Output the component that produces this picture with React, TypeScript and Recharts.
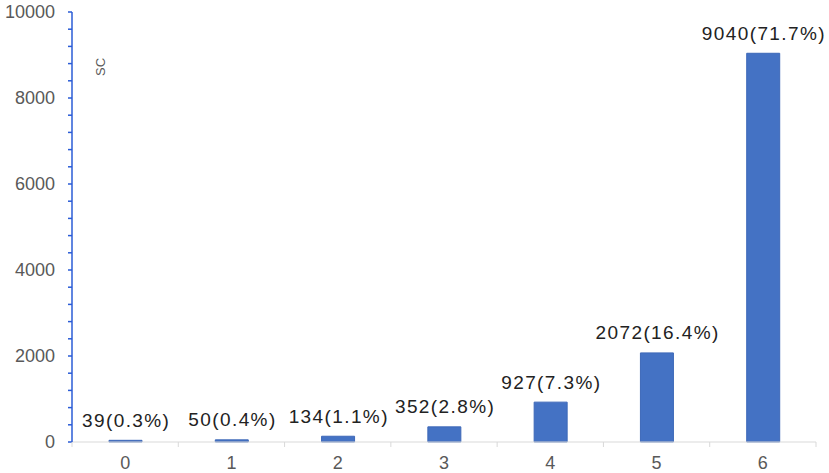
import React from 'react';
import { BarChart, Bar, XAxis, YAxis, LabelList, Customized } from 'recharts';

const categories = ['0', '1', '2', '3', '4', '5', '6'];
const counts = [39, 50, 134, 352, 927, 2072, 9040];
const shares = ['0.3%', '0.4%', '1.1%', '2.8%', '7.3%', '16.4%', '71.7%'];
const majorTicks = [0, 2000, 4000, 6000, 8000, 10000];
// minor ticks every 400 on the value axis
const yTicks = Array.from({ length: 26 }, (_, i) => i * 400);

const data = categories.map((c, i) => ({ cat: c, count: counts[i], share: shares[i] }));

const FONT = '"Liberation Sans", Arial, sans-serif';
const AXIS_BLUE = '#2B5CD6';

function XTick(props: any) {
  const { x, y, payload, index, visibleTicksCount } = props;
  const off = payload.offset || 0;
  const axisY = y - 14;
  const isLast = index === visibleTicksCount - 1;
  return (
    <g>
      <line x1={x - off} x2={x - off} y1={axisY} y2={axisY + 5} stroke="#D9D9D9" strokeWidth={1} />
      {isLast && <line x1={x + off} x2={x + off} y1={axisY} y2={axisY + 5} stroke="#D9D9D9" strokeWidth={1} />}
      <text x={x} y={y} dy="0.71em" textAnchor="middle" fill="#595959" fontSize={18} fontFamily={FONT}>
        {payload.value}
      </text>
    </g>
  );
}

function BarLabel(props: any) {
  const { x, y, width, index } = props;
  const d = data[index];
  return (
    <text
      x={x + width / 2 + 0.7}
      y={y - 13.5}
      textAnchor="middle"
      fill="#222"
      fontSize={19}
      letterSpacing={1.4}
      fontFamily={FONT}
    >
      {`${d.count}(${d.share})`}
    </text>
  );
}

function StrayText() {
  return (
    <text
      x={100.5}
      y={67}
      transform="rotate(-90 100.5 67)"
      textAnchor="middle"
      dominantBaseline="central"
      fill="#595959"
      fontSize={13}
      fontFamily={FONT}
    >
      SC
    </text>
  );
}

export default function App() {
  return (
    <div style={{ position: 'fixed', left: 0, top: 0, width: 829, height: 473, overflow: 'hidden', background: '#fff' }}>
      <BarChart width={829} height={473} data={data} margin={{ top: 12, right: 13, bottom: 0, left: 0 }}>
        <XAxis
          dataKey="cat"
          height={31}
          axisLine={{ stroke: '#D9D9D9', strokeWidth: 1 }}
          tickLine={false}
          tickSize={0}
          tickMargin={14}
          tick={<XTick />}
          interval={0}
        />
        <YAxis
          width={72}
          domain={[0, 10000]}
          ticks={yTicks}
          interval={0}
          axisLine={{ stroke: AXIS_BLUE, strokeWidth: 1.5 }}
          tickLine={{ stroke: AXIS_BLUE, strokeWidth: 1.5 }}
          tickSize={4}
          tickMargin={13}
          tick={{ fill: '#595959', fontSize: 18, fontFamily: FONT }}
          tickFormatter={(v: number) => (majorTicks.includes(v) ? String(v) : '')}
        />
        <Bar dataKey="count" barSize={33} fill="#4472C4" stroke="#3D68B8" strokeWidth={1} isAnimationActive={false}>
          <LabelList dataKey="count" content={<BarLabel />} />
        </Bar>
        <Customized component={StrayText} />
      </BarChart>
    </div>
  );
}
